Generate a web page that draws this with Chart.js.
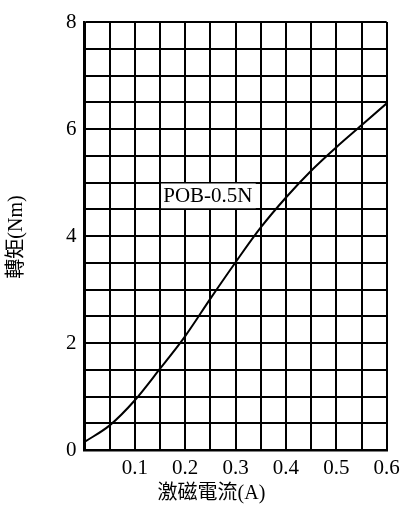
<!DOCTYPE html>
<html lang="zh-Hant">
<head>
<meta charset="UTF-8">
<title>轉矩特性</title>
<style>
  html, body { margin: 0; padding: 0; background: #fff; }
  canvas { display: block; }
</style>
</head>
<body>
<canvas id="chart" width="403" height="507"></canvas>
<script src="https://cdn.jsdelivr.net/npm/chart.js"></script>
<script>
// data
const current = [0, 0.05, 0.1, 0.15, 0.2, 0.25, 0.3, 0.35, 0.4, 0.45, 0.5, 0.55, 0.6];
const torque  = [0.15, 0.46, 0.93, 1.52, 2.13, 2.83, 3.51, 4.16, 4.72, 5.22, 5.66, 6.07, 6.48];

const xLabelValues = [0.1, 0.2, 0.3, 0.4, 0.5, 0.6];
const yLabelValues = [0, 2, 4, 6, 8];
const curveName = 'POB-0.5N';
const xTitle = '激磁電流(A)';
const yTitle = '轉矩(Nm)';

const serif = '"Liberation Serif", "Noto Sans CJK TC", serif';

function hasLabel(list, v) {
  return list.some(x => Math.abs(x - v) < 1e-6);
}

// white box with the curve name, sitting on the grid
const curveLabel = {
  id: 'curveLabel',
  afterDatasetsDraw(chart) {
    const { ctx, scales: { x, y } } = chart;
    const x0 = x.getPixelForValue(0.15), x1 = x.getPixelForValue(0.34);
    const y0 = y.getPixelForValue(5.0), y1 = y.getPixelForValue(4.5);
    ctx.save();
    ctx.fillStyle = '#fff';
    ctx.fillRect(x0 + 1, y0 + 1, x1 - x0 - 1, y1 - y0 - 2);
    ctx.fillStyle = '#000';
    ctx.font = '21px ' + serif;
    ctx.textAlign = 'center';
    ctx.textBaseline = 'middle';
    ctx.fillText(curveName, (x0 + x1) / 2, (y0 + y1) / 2 + 1);
    ctx.restore();
  }
};

// axis titles (x title sits left of plot centre in the original)
const axisTitles = {
  id: 'axisTitles',
  afterDraw(chart) {
    const { ctx, chartArea } = chart;
    ctx.save();
    ctx.fillStyle = '#000';
    ctx.font = '20px ' + serif;
    ctx.textAlign = 'center';
    ctx.textBaseline = 'middle';
    ctx.fillText(xTitle, chartArea.left + 127, chartArea.bottom + 44);
    ctx.translate(17, chartArea.top + 215);
    ctx.rotate(-Math.PI / 2);
    ctx.fillText(yTitle, 0, 0);
    ctx.restore();
  }
};

new Chart(document.getElementById('chart'), {
  type: 'line',
  data: {
    datasets: [{
      data: current.map((c, i) => ({ x: c, y: torque[i] })),
      borderColor: '#000',
      borderWidth: 2,
      pointRadius: 0,
      tension: 0.4,
      cubicInterpolationMode: 'monotone',
      fill: false
    }]
  },
  options: {
    responsive: false,
    animation: false,
    layout: { padding: { top: 22, right: 16.3, left: 0, bottom: 0 } },
    plugins: { legend: { display: false }, tooltip: { enabled: false } },
    scales: {
      x: {
        type: 'linear',
        min: 0,
        max: 0.6,
        afterFit(s) { s.height = 57; s.paddingRight = 0; },
        border: { color: '#000', width: 2.5 },
        grid: { color: '#000', lineWidth: 2, drawTicks: false },
        ticks: {
          stepSize: 0.05,
          autoSkip: false,
          maxRotation: 0,
          padding: 6,
          color: '#000',
          font: { family: serif, size: 21 },
          callback: v => hasLabel(xLabelValues, v) ? v.toFixed(1) : ''
        }
      },
      y: {
        min: 0,
        max: 8,
        afterFit(s) { s.width = 84.5; },
        border: { color: '#000', width: 2.5 },
        grid: { color: '#000', lineWidth: 2, drawTicks: false },
        ticks: {
          stepSize: 0.5,
          autoSkip: false,
          padding: 8,
          color: '#000',
          font: { family: serif, size: 21 },
          callback: v => hasLabel(yLabelValues, v) ? String(v) : ''
        }
      }
    }
  },
  plugins: [curveLabel, axisTitles]
});
</script>
</body>
</html>
